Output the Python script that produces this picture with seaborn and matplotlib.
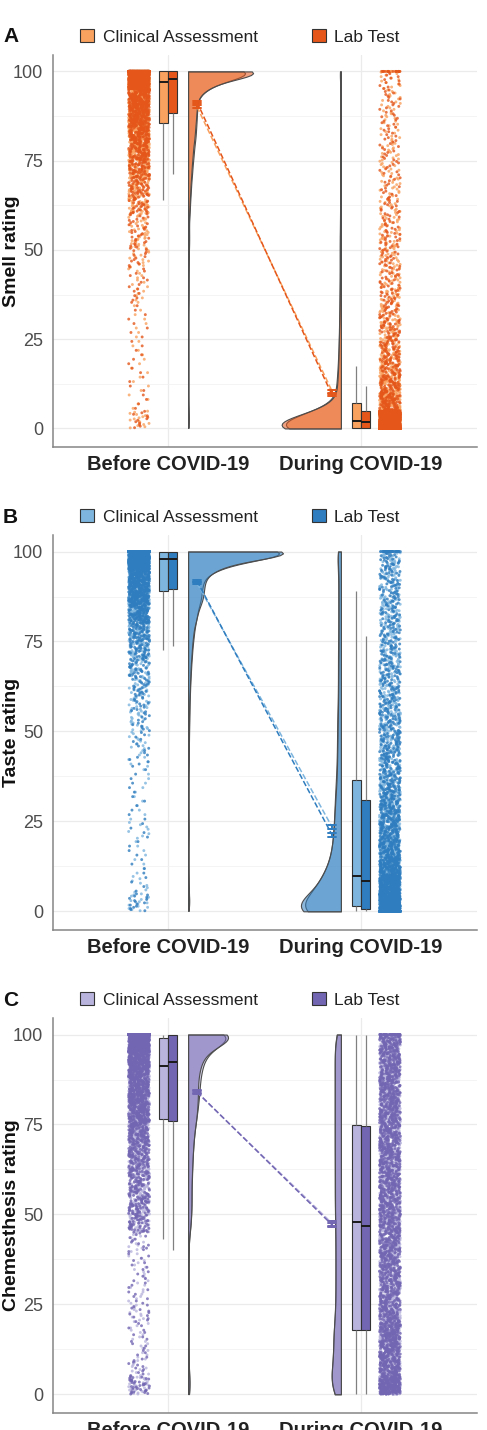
import numpy as np
import pandas as pd
import matplotlib
matplotlib.use("Agg")
import matplotlib.pyplot as plt
from matplotlib.patches import Patch
from matplotlib.transforms import Affine2D
import seaborn as sns

sns.set_theme(style="white")
plt.rcParams['font.family'] = ['Liberation Sans', 'DejaVu Sans']

np.random.seed(7)

# ---------------- data ----------------
PERIODS = ["Before COVID-19", "During COVID-19"]
GROUPS = ["Clinical Assessment", "Lab Test"]
PANEL_LETTERS = ["A", "B", "C"]
Y_LABELS = ["Smell rating", "Taste rating", "Chemesthesis rating"]
Y_TICKS = [0, 25, 50, 75, 100]
Y_MINOR = [12.5, 37.5, 62.5, 87.5]

# respondents per rating bin (per 600):
# [exactly 0, 0-5, 5-10, ..., 95-100, exactly 100]
smell_before_clinical = [0, 4, 1, 1, 1, 1, 1, 1, 2, 2, 3, 6, 5, 10, 15, 22, 30, 40, 45, 50, 150, 210]
smell_before_lab = [0, 3, 1, 1, 1, 1, 1, 1, 2, 2, 3, 4, 4, 8, 12, 18, 25, 35, 42, 50, 150, 240]
smell_during_clinical = [200, 230, 30, 22, 16, 12, 10, 8, 7, 6, 6, 6, 5, 4, 4, 4, 4, 3, 3, 3, 3, 4]
smell_during_lab = [215, 235, 25, 18, 13, 11, 9, 7, 6, 5, 5, 5, 4, 4, 3, 3, 3, 3, 3, 3, 3, 4]

taste_before_clinical = [0, 4, 2, 1, 1, 2, 1, 1, 1, 2, 3, 4, 5, 7, 10, 14, 20, 30, 45, 50, 150, 225]
taste_before_lab = [0, 4, 1, 1, 1, 1, 1, 1, 1, 2, 2, 3, 4, 6, 8, 12, 17, 30, 50, 55, 135, 225]
taste_during_clinical = [120, 95, 85, 40, 30, 25, 22, 20, 16, 14, 13, 13, 11, 10, 10, 10, 9, 9, 9, 9, 9, 10]
taste_during_lab = [135, 110, 80, 45, 30, 25, 22, 18, 14, 13, 12, 11, 10, 9, 9, 8, 8, 8, 8, 8, 8, 10]

chem_before_clinical = [0, 8, 3, 2, 2, 3, 2, 2, 2, 3, 12, 16, 15, 18, 22, 28, 40, 50, 55, 70, 120, 130]
chem_before_lab = [0, 9, 3, 2, 2, 3, 2, 2, 2, 3, 13, 16, 16, 19, 22, 28, 40, 45, 45, 60, 110, 160]
chem_during_clinical = [0, 60, 35, 35, 35, 25, 24, 24, 24, 24, 26, 28, 28, 28, 28, 28, 28, 28, 28, 28, 28, 10]
chem_during_lab = [0, 62, 35, 35, 34, 26, 25, 25, 25, 25, 26, 27, 27, 27, 28, 28, 28, 28, 28, 28, 28, 8]

PANEL_DATA = [
    [smell_before_clinical, smell_before_lab, smell_during_clinical, smell_during_lab],
    [taste_before_clinical, taste_before_lab, taste_during_clinical, taste_during_lab],
    [chem_before_clinical, chem_before_lab, chem_during_clinical, chem_during_lab],
]

# ---------------- styles / layout ----------------
CLINICAL_COLORS = ["#F9A15E", "#7DB5DE", "#B8B4DD"]
LAB_COLORS = ["#E4561A", "#2F7DBF", "#7265B2"]
BIN_LOWER = np.arange(0, 100, 5)
BIN_WIDTH = 5
REPLICATE = 4
FIG_W, FIG_H = 487, 1430
AX_PX = [(55, 447), (535, 930), (1018, 1413)]   # top, bottom in pixels
LEG_Y = [37, 517, 1000]
AX_LEFT, AX_RIGHT = 53, 477
VIOLIN_WIDTH = [0.337, 0.492, 0.207]             # data units of widest half-violin
STRIP_X = {PERIODS[0]: -0.15, PERIODS[1]: 1.15}
MEAN_X = {PERIODS[0]: 0.15, PERIODS[1]: 0.85}
BOX_OFF = {GROUPS[0]: -0.024, GROUPS[1]: 0.024}
VIOLIN_BASE = {PERIODS[0]: (0.104, 1), PERIODS[1]: (0.896, -1)}


def expand(counts):
    counts = np.asarray(counts) * REPLICATE
    parts = [np.zeros(counts[0])]
    for lo, c in zip(BIN_LOWER, counts[1:-1]):
        if c > 0:
            parts.append(lo + (np.arange(c) + 0.5) * BIN_WIDTH / c)
    parts.append(np.full(counts[-1], 100.0))
    return np.concatenate(parts)


fig = plt.figure(figsize=(FIG_W / 100, FIG_H / 100), dpi=100)

for i in range(3):
    top, bot = AX_PX[i]
    ax = fig.add_axes([AX_LEFT / FIG_W, 1 - bot / FIG_H,
                       (AX_RIGHT - AX_LEFT) / FIG_W, (bot - top) / FIG_H])
    pal = {GROUPS[0]: CLINICAL_COLORS[i], GROUPS[1]: LAB_COLORS[i]}

    frames = []
    k = 0
    for period in PERIODS:
        for group in GROUPS:
            v = expand(PANEL_DATA[i][k])
            k += 1
            frames.append(pd.DataFrame({"value": v, "period": period, "group": group}))
    df = pd.concat(frames, ignore_index=True)
    df["strip_x"] = df["period"].map(STRIP_X)
    df["mean_x"] = df["period"].map(MEAN_X)
    df["box_x"] = df["period"].map({PERIODS[0]: 0.0, PERIODS[1]: 1.0}) + df["group"].map(BOX_OFF)

    # half violins
    colls = []
    for period in PERIODS:
        for group in GROUPS:
            vals = df.loc[(df.period == period) & (df.group == group), "value"]
            sns.kdeplot(y=vals, ax=ax, fill=True, cut=0, bw_adjust=0.6,
                        color=pal[group], alpha=0.55, edgecolor="#4d4d4d",
                        linewidth=0.8, legend=False)
            colls.append((period, ax.collections[-1]))
    dmax = max(c.get_paths()[0].vertices[:, 0].max() for _, c in colls)
    s = VIOLIN_WIDTH[i] / dmax
    for period, c in colls:
        base, sign = VIOLIN_BASE[period]
        c.set_transform(Affine2D().scale(sign * s, 1).translate(base, 0) + ax.transData)
        c.set_zorder(1)

    # jittered raw points
    sns.stripplot(data=df, x="strip_x", y="value", hue="group", hue_order=GROUPS,
                  palette=pal, native_scale=True, orient="x", jitter=0.0415,
                  size=2.1, alpha=0.8, linewidth=0, legend=False, ax=ax, zorder=2)

    # boxplots
    sns.boxplot(data=df, x="box_x", y="value", hue="group", hue_order=GROUPS,
                palette=pal, native_scale=True, orient="x", dodge=False,
                width=0.98, saturation=1, showfliers=False, showcaps=False,
                linecolor="#333333", linewidth=0.8,
                whiskerprops=dict(color="#808080", linewidth=0.9),
                medianprops=dict(color="#1a1a1a", linewidth=1.4),
                legend=False, ax=ax)

    # mean +/- SE with dashed connecting lines
    sns.pointplot(data=df, x="mean_x", y="value", hue="group", hue_order=GROUPS,
                  palette=pal, native_scale=True, orient="x", errorbar="se",
                  capsize=0.055, markers="", linestyles="--", dodge=False,
                  linewidth=1.1, err_kws=dict(linewidth=1.4, color=LAB_COLORS[i]),
                  legend=False, ax=ax)

    ax.set_xlim((AX_LEFT - 168) / 193, (AX_RIGHT - 168) / 193)
    ax.set_ylim(-5.2, 104.6)
    ax.set_xticks([0, 1])
    ax.set_xticklabels(PERIODS, fontsize=14.5, fontweight="bold", color="#222222")
    ax.set_yticks(Y_TICKS)
    ax.set_yticklabels([str(t) for t in Y_TICKS], fontsize=13, color="#4D4D4D")
    ax.set_yticks(Y_MINOR, minor=True)
    ax.grid(True, which="major", color="#EBEBEB", linewidth=0.9)
    ax.grid(True, which="minor", axis="y", color="#F2F2F2", linewidth=0.6)
    ax.set_axisbelow(True)
    ax.tick_params(which="both", length=0)
    ax.tick_params(axis="y", pad=7)
    ax.tick_params(axis="x", pad=6)
    for sp in ["top", "right"]:
        ax.spines[sp].set_visible(False)
    for sp in ["left", "bottom"]:
        ax.spines[sp].set_color("#858585")
        ax.spines[sp].set_linewidth(1.1)
    ax.set_xlabel("")
    ax.set_ylabel(Y_LABELS[i], fontsize=14, fontweight="bold", color="#111111")
    ax.yaxis.set_label_coords(-0.078, 0.5)

    handles = [Patch(facecolor=pal[g], edgecolor="#333333", linewidth=0.8) for g in GROUPS]
    leg = fig.legend(handles, GROUPS, loc="center",
                     bbox_to_anchor=(0.493, 1 - LEG_Y[i] / FIG_H), ncol=2,
                     frameon=False, fontsize=12.5, handlelength=0.8,
                     handleheight=0.7, handletextpad=0.5, columnspacing=3.1,
                     borderaxespad=0, borderpad=0)
    for t in leg.get_texts():
        t.set_color("#222222")
    fig.text(3 / FIG_W, 1 - LEG_Y[i] / FIG_H, PANEL_LETTERS[i], fontsize=15,
             fontweight="bold", ha="left", va="center", color="#111111")

fig.savefig("out.png", dpi=100)
